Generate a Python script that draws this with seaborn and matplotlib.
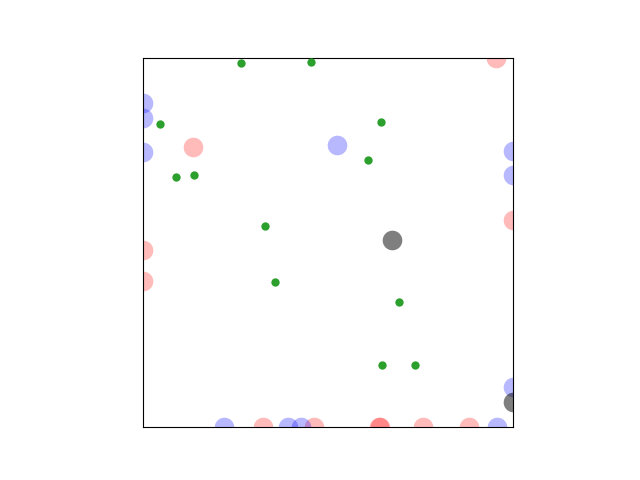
import matplotlib
matplotlib.use('Agg')
import matplotlib.pyplot as plt
import seaborn as sns

# large particles
red_x = [0.954, 0.136, 1.0, 0.0, 0.0, 0.324, 0.463, 0.637, 0.642, 0.758, 0.882]
red_y = [1.0, 0.758, 0.560, 0.479, 0.396, 0.0, 0.0, 0.0, 0.0, 0.0, 0.0]

blue_x = [0.0, 0.0, 0.0, 0.525, 1.0, 1.0, 1.0, 0.219, 0.393, 0.426, 0.958]
blue_y = [0.876, 0.836, 0.745, 0.763, 0.747, 0.682, 0.108, 0.0, 0.0, 0.0, 0.0]

gray_x = [0.672, 1.0]
gray_y = [0.506, 0.069]

# small particles
green_x = [0.265, 0.454, 0.045, 0.643, 0.609, 0.089, 0.137, 0.330, 0.357, 0.692, 0.646, 0.735]
green_y = [0.985, 0.989, 0.821, 0.827, 0.723, 0.677, 0.683, 0.544, 0.393, 0.339, 0.168, 0.168]

fig, ax = plt.subplots(figsize=(6.4, 4.8), dpi=100)

sns.scatterplot(x=red_x, y=red_y, ax=ax, color='red', alpha=0.27, s=200, linewidth=0)
sns.scatterplot(x=blue_x, y=blue_y, ax=ax, color='blue', alpha=0.28, s=200, linewidth=0)
sns.scatterplot(x=gray_x, y=gray_y, ax=ax, color='black', alpha=0.5, s=200, linewidth=0)
sns.scatterplot(x=green_x, y=green_y, ax=ax, color='tab:green', s=36, linewidth=0, zorder=3)

ax.set_xlim(0, 1)
ax.set_ylim(0, 1)
ax.set_aspect('equal')
ax.set_xticks([])
ax.set_yticks([])

plt.savefig('out.png', dpi=100)
